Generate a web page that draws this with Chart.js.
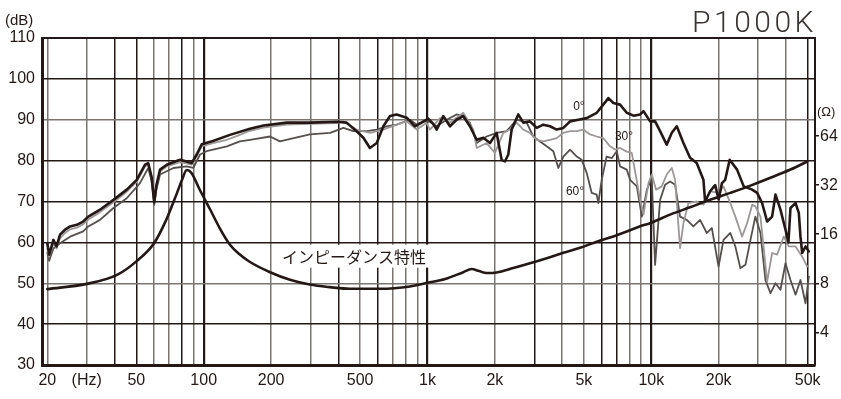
<!DOCTYPE html>
<html>
<head>
<meta charset="utf-8">
<script src="https://cdn.jsdelivr.net/npm/chart.js@4.4.1/dist/chart.umd.min.js"></script>
<style>
  html, body { margin: 0; padding: 0; background: #fff; }
  #c { display: block; }
</style>
</head>
<body>
<canvas id="c" width="841" height="399"></canvas>
<script>
// 0 deg response (Hz / dB)
var f0  = [20,20.4,21.3,22,22.8,24,25.3,27.1,28.9,30.5,34.4,39.5,45.3,50.2,54.7,56.5,58.5,60.1,61.5,63.8,68.4,78.3,83.9,88.3,93,98,110,131,161,185,235,298,393,435,482,517,553,593,635,680,728,807,879,942,1007,1061,1099,1176,1260,1349,1444,1547,1659,1776,1903,2036,2144,2219,2296,2377,2544,2680,2870,3075,3293,3527,3778,4046,4336,4722,5145,5705,6103,6430,6771,7252,7768,8325,8918,9230,9880,10400,10950,11720,12350,13000,13920,14900,15960,17100,17400,18320,19300,20000,20700,21400,22400,24170,25890,28240,29720,31280,32940,34670,35900,37780,39790,41000,41880,44120,45630,46420,47250,48880,50580];
var db0 = [59.8,57,60.6,59,61.9,63.1,63.9,64.3,65.1,66.3,68,70.4,72.9,75.3,79,79.4,76,69.8,74,77.8,79,80.2,79.8,79.4,81.5,84,84.8,86.3,87.8,88.6,89.3,89.3,89.5,89.3,87.2,85.6,83.1,84.3,88.4,90.9,91.3,90.5,88.4,89.3,90.3,89,87.6,90.9,88.4,90,90.9,88.4,85.1,85.6,84.3,86.8,80.2,79.8,81.5,87.6,91.3,89.3,89.6,88,88.8,88.4,87.6,88,89.6,90,90.4,91.7,93.7,95.3,94.1,93.7,91.7,91,91.3,92.1,89.6,89.6,87.2,83.9,86.8,88.4,84.3,80.7,79.4,75.3,70,72.5,74,70.5,74.5,75.3,80.2,77.8,73.7,72.9,72.1,69.6,65.1,66.3,71.7,68,63.1,60,68.4,69.6,67.2,61.4,57.4,59,57.8];

// 30 deg response
var f30  = [20,20.4,21.3,22,22.8,24,25.3,27.1,28.9,30.5,34.4,39.5,45.3,50.2,54.7,56.5,58.5,60.1,61.5,63.8,68.4,78.3,83.9,88.3,93,98,110,127,145,161,185,235,298,393,420,482,553,635,728,807,895,990,1026,1137,1260,1444,1602,1659,1838,2002,2181,2336,2503,2680,2870,3075,3293,3527,3778,4046,4336,4646,4969,5326,5705,6103,6541,6893,7252,7768,8182,8618,8918,9230,9714,10050,10510,11140,11720,12350,12780,13450,13920,14650,15960,17100,18320,19980,21030,22550,23750,25460,26810,28240,29180,30750,32940,34670,36510,39080,41140,44120,47250,49750];
var db30 = [58.5,56.5,59.8,58.5,61,62.3,63.2,63.6,64.4,65.6,67.4,69.8,72.4,74.8,78.6,79,76,70.5,74,77.3,78.6,79.6,79.3,79,81,83.5,84.3,85.1,86.3,87.3,88.1,88.8,89,89.2,89.6,87.6,86.8,87.6,88.8,89.6,87.6,89.2,87.6,90.4,89.3,91.7,87.6,83.1,84.3,81.9,86.8,87.6,89.3,87.6,86.8,85.1,84.7,85.1,85.5,86.8,87.2,87.2,87.6,86.4,85.9,85.5,83.5,82.7,83.1,82.2,81.9,75,70.4,66.8,74.5,76.6,72.9,73.7,76.6,78.2,75.3,58.6,64.7,69.6,70,69.2,72.5,72.1,73.7,69.6,66.3,61.4,64.7,69.2,68.8,66.3,50.4,57.4,57,61.4,59,59,56.5,54.1];

// 60 deg response
var f60  = [20,20.4,21.3,22.8,25.3,28.9,30.5,34.4,39.5,45.3,51.9,56.5,58.5,60.1,61.5,63.8,73.2,83.9,89.8,96.3,103,127,145,161,198,219,298,367,421,466,535,593,657,728,835,895,958,1026,1099,1218,1349,1444,1547,1659,1838,2036,2258,2503,2775,2971,3182,3409,3650,3843,4046,4336,4646,4888,5145,5417,5705,5799,6003,6318,6656,7012,7252,7768,8040,8618,9077,9556,10050,10400,10950,11530,12130,12780,13450,14400,15420,16520,17700,18650,19980,21030,22550,23750,25010,26350,27750,29180,30750,32370,34080,35900,37780,39790,41880,44120,46420,48880,50580];
var db60 = [57.5,55.5,58.5,59.8,61.4,62.7,63.9,65.5,68.4,70.8,74.5,78.2,75,69.2,73,76.6,78.2,78.6,78.2,81.5,82.3,83.5,84.7,85.1,85.9,84.7,86.4,86.8,88,87.2,87.2,87.6,88.4,88.8,90,88.8,89.6,89.5,88.4,90,91.3,90.9,89.3,84.3,85.9,86.8,87.2,90,89.3,85.9,84.7,83.5,82.3,78.2,81,82.7,81,80.2,77,72.1,71.7,69.6,75.3,81,80.6,82.3,78.6,77.8,75.3,73.7,66.3,72.9,75.7,54.5,70.4,74.1,74.9,74.1,66.3,65.5,63.9,65.5,62.3,63.5,54.1,60.6,62.3,59,53.7,54.5,60.6,66.3,62.3,50.8,47.6,50,48.4,54.9,50.8,47.2,50.8,45.1,51.6];

// impedance (Hz / ohm)
var fImp  = [20,30,41,50,60,68,76,80,84,88,96,107,118,131,145,161,198,243,298,367,450,614,835,1000,1200,1444,1574,1700,1838,2036,2418,2870,3409,4046,4805,5705,6771,8040,8918,9880,12130,14900,18320,22550,27750,34080,41880,49750];
var ohmImp = [7.36,7.93,9.0,10.9,14.1,19.6,28.7,34.5,39.6,38.1,30.0,22.6,17.4,13.8,12.0,10.8,9.35,8.4,7.85,7.57,7.4,7.4,7.65,8.05,8.5,9.35,9.79,9.5,9.24,9.31,9.91,10.6,11.4,12.3,13.2,14.4,15.5,16.9,17.9,18.7,21.1,23.4,26.0,28.7,31.8,35.5,39.9,44.7];

// axes
var gridFreqs = [20,30,40,50,60,70,80,90,100,200,300,400,500,600,700,800,900,1000,2000,3000,4000,5000,6000,7000,8000,9000,10000,20000,30000,40000,50000];
var freqLabels = {20:'20',30:'(Hz)',50:'50',100:'100',200:'200',500:'500',1000:'1k',2000:'2k',5000:'5k',10000:'10k',20000:'20k',50000:'50k'};
var darkFreqs = [40,50,80,100,400,600,1000,3000,6000,7000,10000,50000];
var dbTicks = [30,40,50,60,70,80,90,100,110];
var darkDb = [40,60,70,80,100];
var ohmTicks = [4,8,16,32,64];

var notes = [
  {text:'0°', f:4750, db:93.2},
  {text:'30°', f:7550, db:85.9},
  {text:'60°', f:4560, db:72.4}
];

var ink = '#231815';
var grey = '#7b7572';

function pts(fs, vs) {
  return fs.map(function(f, i){ return {x:f, y:vs[i]}; });
}

var extras = {
  id: 'extras',
  beforeDatasetsDraw: function(chart) {
    var ctx = chart.ctx, x = chart.scales.x, y = chart.scales.y;
    ctx.save();
    var cx = x.getPixelForValue(469), cy = y.getPixelForValue(56.5);
    ctx.fillStyle = '#fff';
    ctx.fillRect(cx - 77, cy - 12, 154, 23);
    ctx.fillStyle = ink;
    ctx.font = '16px "Noto Sans CJK JP"';
    ctx.textAlign = 'center';
    ctx.textBaseline = 'middle';
    ctx.fillText('インピーダンス特性', cx, cy);
    ctx.restore();
  },
  afterDraw: function(chart) {
    var ctx = chart.ctx, a = chart.chartArea, x = chart.scales.x, y = chart.scales.y;
    ctx.save();
    ctx.strokeStyle = ink;
    ctx.lineWidth = 2;
    ctx.beginPath();
    ctx.moveTo(a.left, a.top); ctx.lineTo(a.right, a.top);
    ctx.stroke();
    ctx.fillStyle = ink;
    ctx.textBaseline = 'middle';
    ctx.textAlign = 'center';
    ctx.font = '12px "Liberation Sans"';
    notes.forEach(function(n){
      ctx.fillText(n.text, x.getPixelForValue(n.f), y.getPixelForValue(n.db));
    });
    ctx.font = '15px "Liberation Sans"';
    ctx.textAlign = 'left';
    ctx.fillText('(dB)', 5, 21);
    ctx.font = '13px "Liberation Sans"';
    ctx.fillText('(Ω)', 817, 112);
    ctx.fillStyle = '#3a3533';
    ctx.font = '300 30px Roboto';
    ctx.textAlign = 'right';
    ctx.textBaseline = 'alphabetic';
    if ('letterSpacing' in ctx) ctx.letterSpacing = '3.5px';
    ctx.fillText('P1000K', 817, 32);
    ctx.restore();
  }
};

var ctx = document.getElementById('c').getContext('2d');
var chart = new Chart(ctx, {
  type: 'line',
  data: {
    datasets: [
      {label:'0°', data: pts(f0, db0), borderColor: ink, borderWidth: 2.6, yAxisID:'y'},
      {label:'インピーダンス', data: pts(fImp, ohmImp), borderColor: ink, borderWidth: 2.6, yAxisID:'y2', cubicInterpolationMode:'monotone'},
      {label:'30°', data: pts(f30, db30), borderColor: '#9d9897', borderWidth: 1.8, yAxisID:'y'},
      {label:'60°', data: pts(f60, db60), borderColor: '#55504e', borderWidth: 1.8, yAxisID:'y'}
    ]
  },
  options: {
    responsive: false,
    animation: false,
    devicePixelRatio: 1,
    layout: { padding: { top: 38, left: 0, right: 0, bottom: 0 } },
    plugins: { legend: { display: false }, tooltip: { enabled: false } },
    elements: { point: { radius: 0 }, line: { tension: 0, borderJoinStyle: 'round', borderCapStyle: 'round' } },
    scales: {
      x: {
        type: 'logarithmic', min: 18.94, max: 53900,
        afterBuildTicks: function(s){ s.ticks = gridFreqs.map(function(v){ return {value:v}; }); },
        afterFit: function(s){ s.height = 34; },
        ticks: {
          autoSkip: false, maxRotation: 0, padding: 6, color: ink,
          font: { family: 'Liberation Sans', size: 16 },
          callback: function(v){ return freqLabels[v] || ''; }
        },
        grid: {
          drawTicks: false,
          color: function(c){ return c.tick && darkFreqs.indexOf(c.tick.value) >= 0 ? ink : grey; },
          lineWidth: function(c){ return c.tick && [100,1000,10000].indexOf(c.tick.value) >= 0 ? 2.2 : 1.5; }
        },
        border: { color: ink, width: 3 }
      },
      y: {
        position: 'left', min: 30, max: 110,
        afterBuildTicks: function(s){ s.ticks = dbTicks.map(function(v){ return {value:v}; }); },
        afterFit: function(s){ s.width = 42; },
        ticks: { padding: 7, color: ink, font: { family: 'Liberation Sans', size: 16 } },
        grid: {
          drawTicks: false,
          color: function(c){ return c.tick && darkDb.indexOf(c.tick.value) >= 0 ? ink : grey; },
          lineWidth: 1.5
        },
        border: { color: ink, width: 3 }
      },
      y2: {
        type: 'logarithmic', position: 'right', min: 2.52, max: 256,
        afterBuildTicks: function(s){ s.ticks = ohmTicks.map(function(v){ return {value:v}; }); },
        afterFit: function(s){ s.width = 26; },
        ticks: { padding: 1, color: ink, font: { family: 'Liberation Sans', size: 16 },
          callback: function(v){ return String(v); } },
        grid: { drawOnChartArea: false, drawTicks: true, tickLength: 4, color: ink, lineWidth: 1.5 },
        border: { color: ink, width: 2 }
      }
    }
  },
  plugins: [extras]
});
</script>
</body>
</html>
